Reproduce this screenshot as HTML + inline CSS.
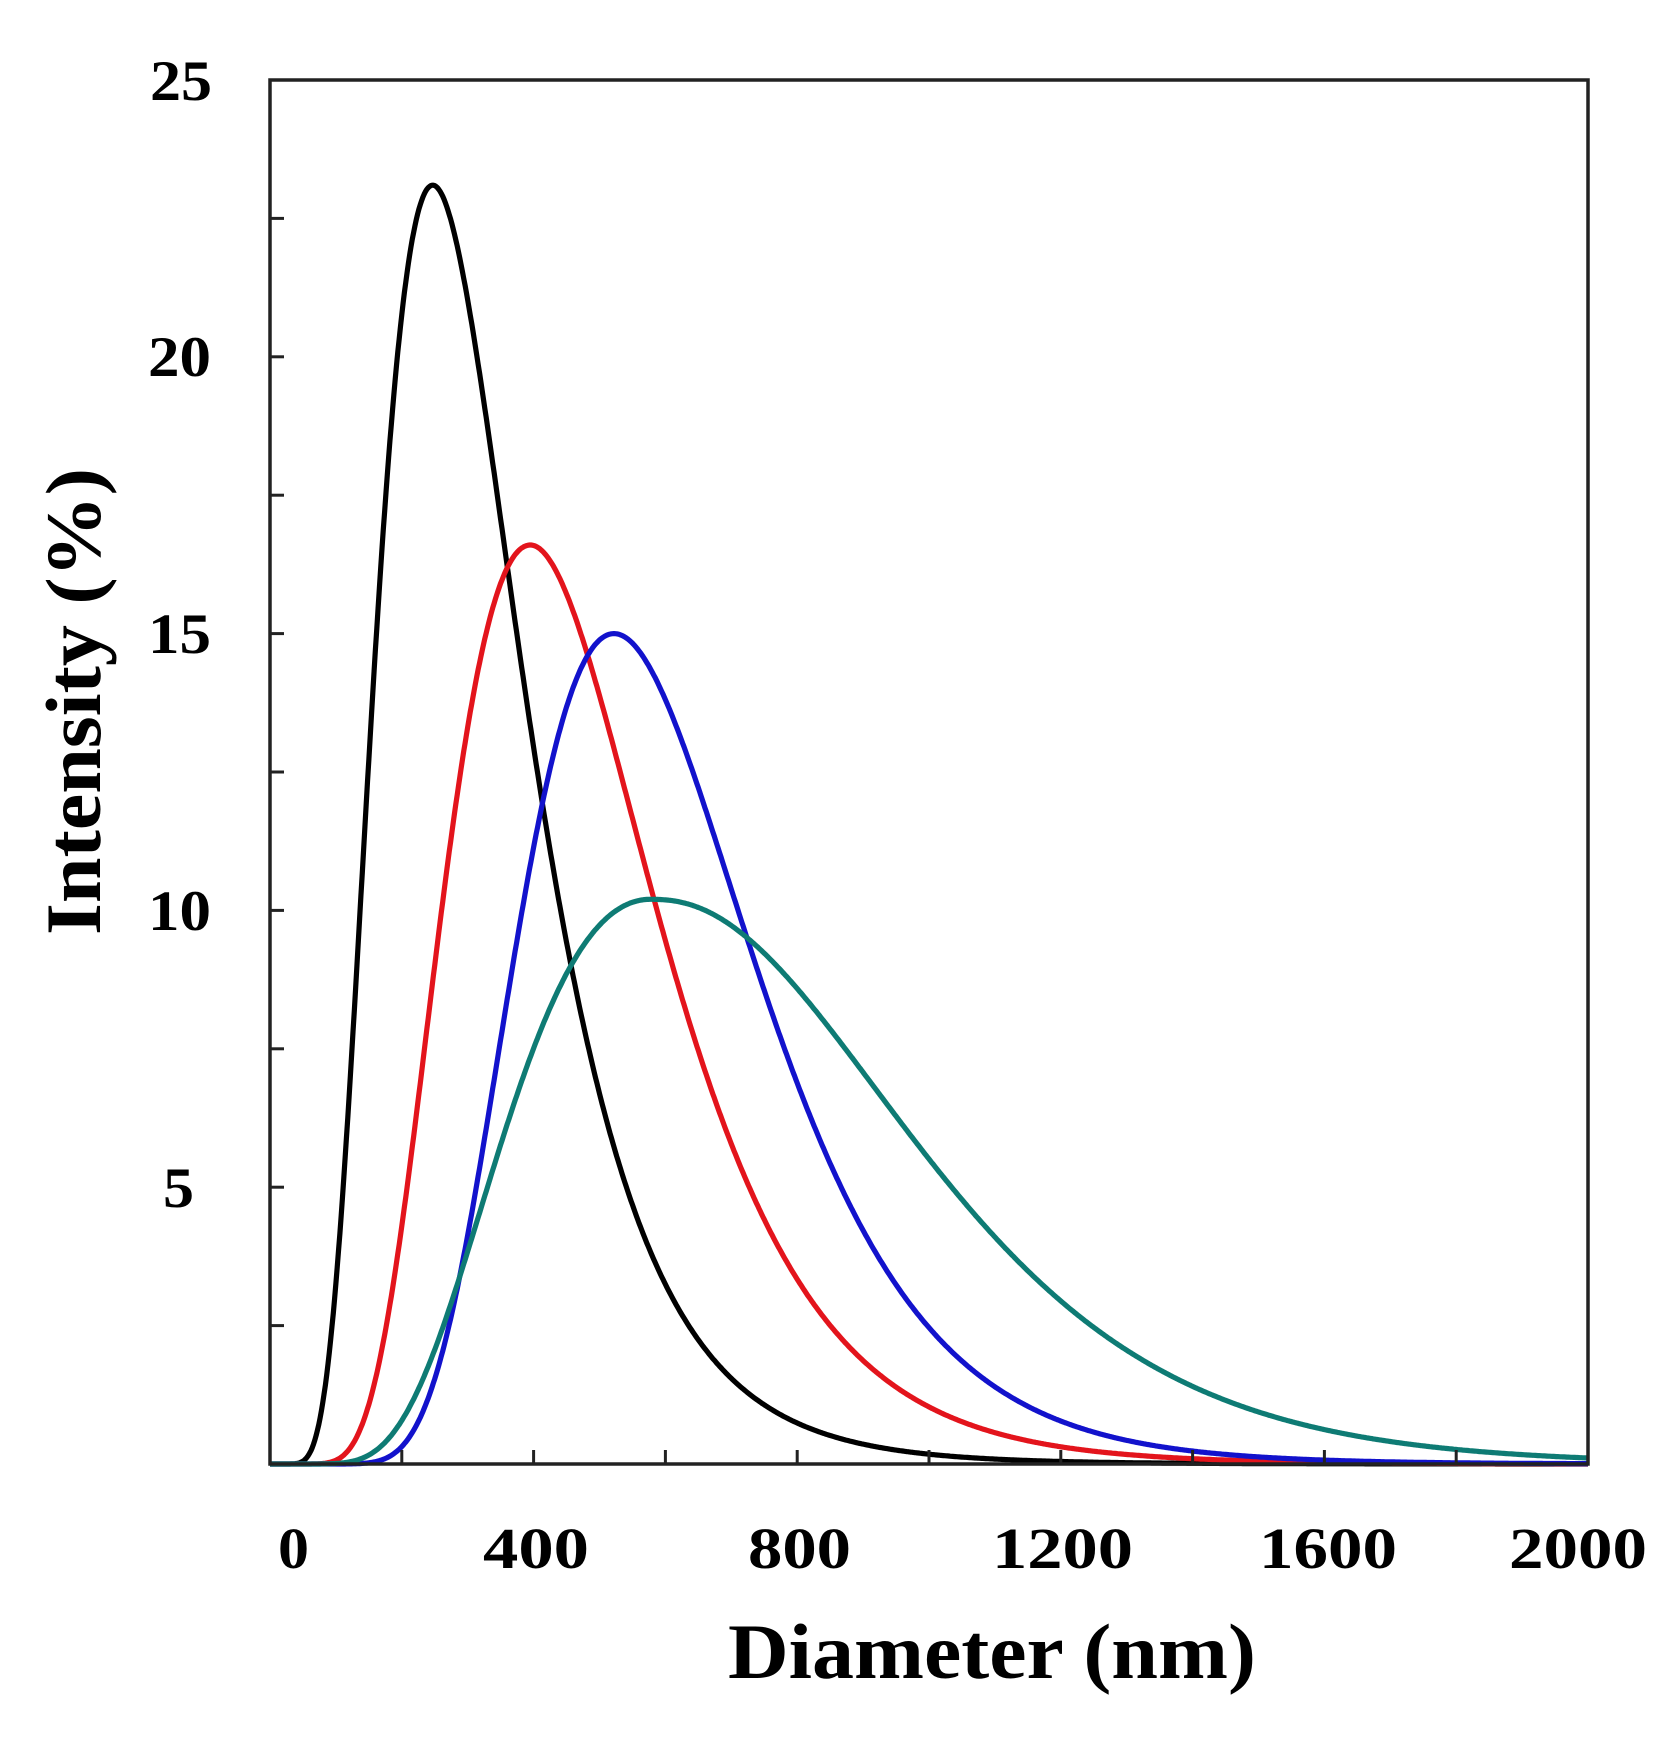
<!DOCTYPE html>
<html><head><meta charset="utf-8"><style>
html,body{margin:0;padding:0;background:#fff;}
svg{display:block;}
text{font-family:"Liberation Serif",serif;font-weight:bold;fill:#000;}
</style></head><body>
<svg id="s" width="1678" height="1743" viewBox="0 0 1678 1743" xmlns="http://www.w3.org/2000/svg">
<rect width="1678" height="1743" fill="#fff"/>
<g id="curves" fill="none" stroke-width="5.2" stroke-linejoin="round"></g>
<rect x="270" y="80" width="1318" height="1384" fill="none" stroke="#222" stroke-width="3.5"/>
<g id="ticks" stroke="#222" stroke-width="3"></g>
<g font-size="57">
<text x="150" y="100" textLength="62" lengthAdjust="spacingAndGlyphs">25</text>
<text x="148" y="376" textLength="63" lengthAdjust="spacingAndGlyphs">20</text>
<text x="148" y="653" textLength="63" lengthAdjust="spacingAndGlyphs">15</text>
<text x="148" y="930" textLength="63" lengthAdjust="spacingAndGlyphs">10</text>
<text x="163" y="1207" textLength="31" lengthAdjust="spacingAndGlyphs">5</text>
</g>
<g font-size="58">
<text x="278" y="1568" textLength="31" lengthAdjust="spacingAndGlyphs">0</text>
<text x="483" y="1568" textLength="106" lengthAdjust="spacingAndGlyphs">400</text>
<text x="748" y="1568" textLength="103" lengthAdjust="spacingAndGlyphs">800</text>
<text x="992" y="1568" textLength="141" lengthAdjust="spacingAndGlyphs">1200</text>
<text x="1259" y="1568" textLength="138" lengthAdjust="spacingAndGlyphs">1600</text>
<text x="1509" y="1568" textLength="138" lengthAdjust="spacingAndGlyphs">2000</text>
</g>
<text x="728" y="1678" font-size="78" textLength="528" lengthAdjust="spacingAndGlyphs">Diameter (nm)</text>
<text transform="translate(100,702) rotate(-90)" x="-233" y="0" font-size="78" textLength="467" lengthAdjust="spacingAndGlyphs">Intensity (%)</text>
</svg>
<script>
var X=function(n){return 270+n*0.659;}, Y=function(v){return 1464-v*55.36;};
var series=[
 {c:"#000000",m:247,A:23.1,sl:0.457,sr:0.448,p:2},
 {c:"#e3141c",m:395,A:16.6,sl:0.414,sr:0.394,p:2},
 {c:"#1212cc",m:522,A:15.0,sl:0.345,sr:0.342,p:2},
 {c:"#0e7b74",m:577,A:10.2,sl:0.468,sr:0.505,p:2.45}
];
var g=document.getElementById("curves"),ns="http://www.w3.org/2000/svg";
series.forEach(function(s){
 var d="";
 for(var n=0;n<=2000;n+=2){
  var x=Math.max(n,1),u=Math.log(x/s.m),v;
  if(u<0){v=s.A*Math.exp(-u*u/(2*s.sl*s.sl));}
  else{v=s.A*Math.exp(-Math.pow(u/s.sr,s.p)/2);}
  d+=(n?"L":"M")+X(n).toFixed(1)+","+Y(v).toFixed(1);
 }
 var p=document.createElementNS(ns,"path");p.setAttribute("d",d);p.setAttribute("stroke",s.c);g.appendChild(p);
});
var t=document.getElementById("ticks"),h="";
for(var k=1;k<10;k++){var y=Y(k*2.5);h+='<line x1="270" y1="'+y+'" x2="284" y2="'+y+'"/>';}
for(var n=200;n<2000;n+=200){var x=X(n);h+='<line x1="'+x+'" y1="1464" x2="'+x+'" y2="1450"/>';}
t.innerHTML=h;
</script>
</body></html>
